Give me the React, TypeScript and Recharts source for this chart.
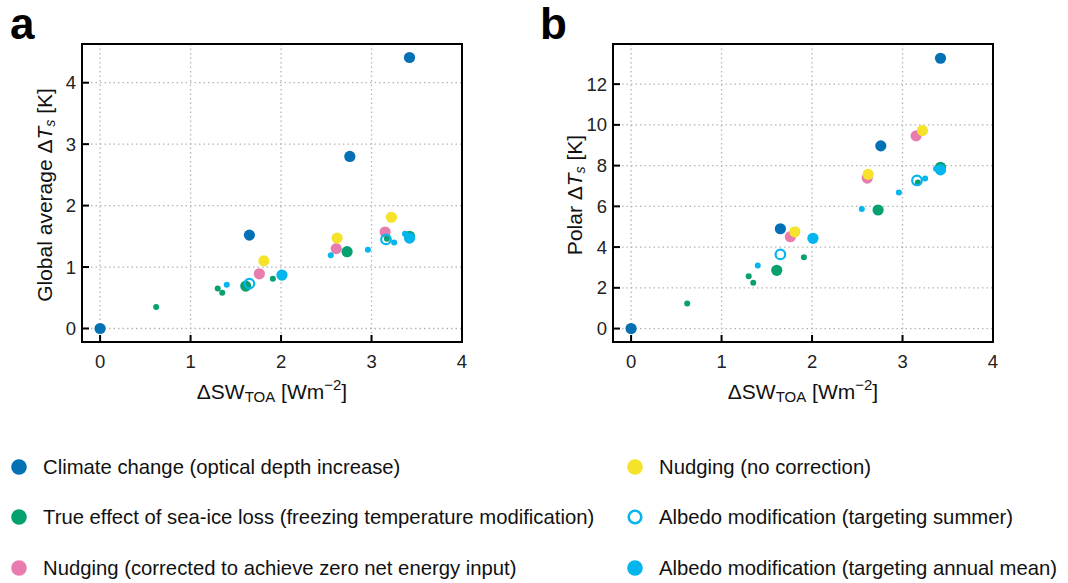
import React from "react";
import {
  ScatterChart,
  Scatter,
  XAxis,
  YAxis,
  CartesianGrid,
  ReferenceArea,
} from "recharts";

// ΔSW_TOA (shared x values)
const blueX = [0, 1.65, 2.76, 3.42];
const greenBigX = [1.61, 2.73, 3.42];
const greenSmallX = [0.62, 1.3, 1.35, 1.91, 3.17];
const pinkX = [1.76, 2.61, 3.15];
const yellowX = [1.81, 2.62, 3.22];
const openX = [1.65, 3.16];
const cyanBigX = [2.01, 3.42];
const cyanSmallX = [1.4, 2.55, 2.96, 3.25, 3.37];

// global average ΔTs
const blueGlobal = [0, 1.52, 2.8, 4.41];
const greenBigGlobal = [0.69, 1.25, 1.5];
const greenSmallGlobal = [0.35, 0.65, 0.58, 0.81, 1.46];
const pinkGlobal = [0.89, 1.3, 1.57];
const yellowGlobal = [1.1, 1.47, 1.81];
const openGlobal = [0.73, 1.45];
const cyanBigGlobal = [0.87, 1.47];
const cyanSmallGlobal = [0.71, 1.19, 1.28, 1.4, 1.54];

// polar ΔTs
const bluePolar = [0, 4.9, 8.97, 13.27];
const greenBigPolar = [2.86, 5.82, 7.92];
const greenSmallPolar = [1.23, 2.57, 2.25, 3.5, 7.17];
const pinkPolar = [4.51, 7.39, 9.46];
const yellowPolar = [4.75, 7.57, 9.72];
const openPolar = [3.64, 7.27];
const cyanBigPolar = [4.43, 7.79];
const cyanSmallPolar = [3.1, 5.87, 6.68, 7.37, 7.84];

const xTicks = [0, 1, 2, 3, 4];
const globalTicks = [0, 1, 2, 3, 4];
const polarTicks = [0, 2, 4, 6, 8, 10, 12];

const legendLeft = [
  "Climate change (optical depth increase)",
  "True effect of sea-ice loss (freezing temperature modification)",
  "Nudging (corrected to achieve zero net energy input)",
];
const legendRight = [
  "Nudging (no correction)",
  "Albedo modification (targeting summer)",
  "Albedo modification (targeting annual mean)",
];

const BLUE = "#0571b5";
const GREEN = "#07a06f";
const PINK = "#e87cae";
const YELLOW = "#f4e32a";
const CYAN = "#05b5ee";
const FONT = "'Liberation Sans', Arial, sans-serif";

const zip = (xs: number[], ys: number[]) => xs.map((x, i) => ({ x, y: ys[i] }));

const dot = (r: number, color: string) => (p: any) =>
  <circle cx={p.cx} cy={p.cy} r={r} fill={color} />;
const ring = (r: number, color: string) => (p: any) =>
  <circle cx={p.cx} cy={p.cy} r={r} fill="none" stroke={color} strokeWidth={2.2} />;

const XLabel = (props: any) => {
  const { x, y, width } = props.viewBox;
  return (
    <text x={x + width / 2} y={y + 57} textAnchor="middle" fontFamily={FONT} fontSize={21} fill="#111">
      ΔSW
      <tspan fontSize={15} dy={3}>TOA</tspan>
      <tspan dy={-3}> [Wm</tspan>
      <tspan fontSize={15} dy={-9}>−2</tspan>
      <tspan dy={9}>]</tspan>
    </text>
  );
};

const YLabel = (name: string) => () => {
  const cx = 52;
  const cy = 195;
  return (
    <text x={cx} y={cy} transform={`rotate(-90 ${cx} ${cy})`} textAnchor="middle" fontFamily={FONT} fontSize={21} fill="#111">
      {name} Δ<tspan fontStyle="italic">T</tspan>
      <tspan fontStyle="italic" fontSize={14} dy={3}>s</tspan>
      <tspan dy={-3}> [K]</tspan>
    </text>
  );
};

type PanelProps = {
  left: number;
  letter: string;
  yName: string;
  yTicks: number[];
  yDomain: [number, number];
  yAxisWidth: number;
  rightMargin: number;
  ys: number[][];
};

const Panel = ({ left, letter, yName, yTicks, yDomain, yAxisWidth, rightMargin, ys }: PanelProps) => {
  const [b, gB, gS, p, yl, o, cB, cS] = ys;
  const tickStyle = { fontSize: 18.5, fill: "#222", fontFamily: FONT };
  return (
    <div style={{ position: "absolute", left, top: 0, width: 480, height: 420 }}>
      <div style={{ position: "absolute", left: 10, top: 2, fontFamily: FONT, fontWeight: "bold", fontSize: 44, lineHeight: "44px" }}>
        {letter}
      </div>
      <ScatterChart width={480} height={420} margin={{ top: 44, right: rightMargin, left: 0, bottom: 0 }}>
        <CartesianGrid stroke="#b5b5b5" strokeDasharray="1.5 3" strokeWidth={1.3} />
        <XAxis
          type="number"
          dataKey="x"
          domain={[-0.2, 4]}
          ticks={xTicks}
          height={78}
          axisLine={{ stroke: "#000", strokeWidth: 2 }}
          tickLine={{ stroke: "#000", strokeWidth: 2 }}
          tickSize={-7}
          tickMargin={20}
          tick={tickStyle}
          allowDataOverflow
          label={<XLabel />}
        />
        <YAxis
          type="number"
          dataKey="y"
          domain={yDomain}
          ticks={yTicks}
          width={yAxisWidth}
          axisLine={{ stroke: "#000", strokeWidth: 2 }}
          tickLine={{ stroke: "#000", strokeWidth: 2 }}
          tickSize={-7}
          tickMargin={13}
          tick={tickStyle}
          allowDataOverflow
          label={YLabel(yName)}
        />
        <ReferenceArea x1={-0.2} x2={4} y1={yDomain[0]} y2={yDomain[1]} fill="none" stroke="#000" strokeWidth={2} fillOpacity={0} />
        <Scatter data={zip(blueX, b)} shape={dot(5.6, BLUE)} isAnimationActive={false} />
        <Scatter data={zip(pinkX, p)} shape={dot(5.6, PINK)} isAnimationActive={false} />
        <Scatter data={zip(yellowX, yl)} shape={dot(5.6, YELLOW)} isAnimationActive={false} />
        <Scatter data={zip(greenBigX, gB)} shape={dot(5.6, GREEN)} isAnimationActive={false} />
        <Scatter data={zip(greenSmallX, gS)} shape={dot(3, GREEN)} isAnimationActive={false} />
        <Scatter data={zip(cyanSmallX, cS)} shape={dot(3, CYAN)} isAnimationActive={false} />
        <Scatter data={zip(openX, o)} shape={ring(4.8, CYAN)} isAnimationActive={false} />
        <Scatter data={zip(cyanBigX, cB)} shape={dot(5.6, CYAN)} isAnimationActive={false} />
      </ScatterChart>
    </div>
  );
};

const LegendItem = ({ x, y, color, open, text }: any) => (
  <div style={{ position: "absolute", left: x - 9, top: y - 13, height: 26, display: "flex", alignItems: "center", whiteSpace: "nowrap" }}>
    <svg width={18} height={18} style={{ marginRight: 15 }}>
      {open ? (
        <circle cx={9} cy={9} r={6.3} fill="none" stroke={color} strokeWidth={2.6} />
      ) : (
        <circle cx={9} cy={9} r={7.8} fill={color} />
      )}
    </svg>
    <span style={{ fontFamily: FONT, fontSize: 20.3, color: "#111" }}>{text}</span>
  </div>
);

export default function App() {
  const leftColors = [BLUE, GREEN, PINK];
  const rightColors = [YELLOW, CYAN, CYAN];
  const rowY = [467, 517, 568];
  return (
    <div style={{ position: "absolute", left: 0, top: 0, width: 1068, height: 583, background: "#fff", overflow: "hidden" }}>
      <Panel
        left={0}
        letter="a"
        yName="Global average"
        yTicks={globalTicks}
        yDomain={[-0.22, 4.63]}
        yAxisWidth={82}
        rightMargin={18}
        ys={[blueGlobal, greenBigGlobal, greenSmallGlobal, pinkGlobal, yellowGlobal, openGlobal, cyanBigGlobal, cyanSmallGlobal]}
      />
      <Panel
        left={530}
        letter="b"
        yName="Polar"
        yTicks={polarTicks}
        yDomain={[-0.66, 13.97]}
        yAxisWidth={83}
        rightMargin={17}
        ys={[bluePolar, greenBigPolar, greenSmallPolar, pinkPolar, yellowPolar, openPolar, cyanBigPolar, cyanSmallPolar]}
      />
      {legendLeft.map((t, i) => (
        <LegendItem key={t} x={19} y={rowY[i]} color={leftColors[i]} text={t} />
      ))}
      {legendRight.map((t, i) => (
        <LegendItem key={t} x={635} y={rowY[i]} color={rightColors[i]} open={i === 1} text={t} />
      ))}
    </div>
  );
}
